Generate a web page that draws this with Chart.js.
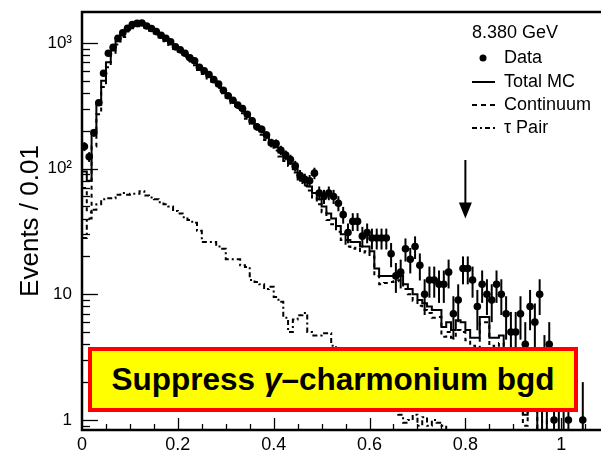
<!DOCTYPE html>
<html>
<head>
<meta charset="utf-8">
<script src="https://cdn.jsdelivr.net/npm/chart.js@4.4.1/dist/chart.umd.min.js"></script>
<style>
  html, body { margin: 0; padding: 0; background: #fff; }
  #wrap { position: relative; width: 605px; height: 462px; }
  #note {
    position: absolute; left: 88px; top: 347px; width: 490px; height: 65px;
    box-sizing: border-box; background: #ffff00; border: 4px solid #ff0000;
    font: bold 31.5px "Liberation Sans", Arial, sans-serif; color: #000;
    display: flex; align-items: center; justify-content: center; white-space: nowrap;
  }
</style>
</head>
<body>
<div id="wrap">
  <canvas id="chart" width="605" height="462"></canvas>
  <div id="note">Suppress&nbsp;<i>γ</i>–charmonium bgd</div>
</div>
<script>
// histogram binning: 0.01 wide bins starting at 0
const binStart = 0;
const binWidth = 0.01;

// events per bin (0 = empty bin)
const dataCounts = [
  150, 124, 193, 334, 573, 826, 922, 1087, 1205, 1306,
  1400, 1430, 1440, 1362, 1300, 1230, 1150, 1090, 1020, 930,
  880, 826, 760, 720, 640, 600, 560, 510, 470, 420,
  380, 350, 320, 300, 270, 240, 215, 205, 185, 160,
  158, 140, 128, 118, 105, 88, 82, 80, 92, 64,
  60, 64, 60, 53, 43, 31, 38, 38, 29, 31,
  28, 28, 28, 28, 21, 14, 15, 23, 19, 24,
  17, 10, 13, 13, 12, 12, 15, 7, 9, 16,
  16, 13, 8, 12, 10, 9, 12, 10, 7, 5,
  5, 7, 4, 8, 6, 10, 3, 4, 1, 2,
  2, 1, 0, 0, 1, 0, 0, 0
];

const totalMC = [
  95, 80, 200, 320, 500, 700, 870, 1030, 1180, 1290,
  1370, 1420, 1420, 1380, 1310, 1240, 1160, 1080, 1010, 940,
  870, 810, 750, 700, 640, 590, 545, 500, 460, 420,
  385, 350, 320, 292, 265, 240, 218, 198, 180, 163,
  148, 134, 121, 110, 99, 89, 80, 72, 64, 57,
  50, 44, 40, 35, 30, 27, 26, 26, 24, 24,
  22, 16, 14, 14, 14, 14, 14, 12, 11, 10,
  9, 8.5, 8, 7.5, 7.5, 5.5, 6, 5.2, 6.2, 6,
  5.2, 4.5, 4.5, 6.6, 6.6, 4.5, 4.5, 4.7, 3.5, 3,
  2.5, 2, 1.1, 2, 1.5, 0, 1.2, 0, 0, 0,
  0, 0, 0, 0, 0, 0, 0, 0
];

const continuum = [
  70, 45, 150, 270, 445, 640, 810, 970, 1115, 1230,
  1305, 1355, 1355, 1320, 1250, 1185, 1105, 1030, 960, 895,
  825, 770, 710, 663, 608, 565, 520, 475, 437, 397,
  366, 331, 301, 275, 249, 227, 206, 186, 169, 152,
  139, 125, 115, 105, 93, 82, 73, 67, 59, 52,
  45, 39, 36, 31.5, 27, 24, 23, 23.5, 21.5, 22,
  20, 14, 12, 12.3, 12.5, 12.7, 12.9, 11, 10, 8.9,
  8.1, 7.5, 7.1, 6.5, 6.6, 4.6, 5, 4.5, 5.2, 5,
  4.3, 3.9, 3.7, 6, 6, 3.9, 3.8, 4.1, 3, 2.6,
  2.1, 1.7, 0.9, 1.8, 1.3, 0, 1.0, 0, 0, 0,
  0, 0, 0, 0, 0, 0, 0, 0
];

const tauPair = [
  28, 40, 47, 52, 57, 58, 58, 62, 64, 62,
  63, 63, 66, 61, 59, 57, 54, 52, 50, 46,
  44, 41, 39, 37, 32, 26, 26, 26, 24, 23,
  19, 19, 19, 17, 16.5, 13, 12.5, 12, 11, 11.5,
  9.5, 8.7, 6.5, 5, 6.3, 6.8, 7.1, 5, 4.7, 4.7,
  4.9, 4.9, 3.9, 3.5, 3.2, 3, 2.8, 2.5, 2.4, 2.2,
  2, 1.9, 1.7, 1.5, 1.4, 1.3, 1.1, 0.95, 1.0, 1.1,
  0.9, 1.05, 0.9, 1.0, 0.95, 0.9, 0, 0, 0, 0,
  0, 0, 0, 0, 0, 0, 0, 0, 0, 0,
  0, 0, 0, 0, 0, 0, 0, 0, 0, 0,
  0, 0, 0, 0, 0, 0, 0, 0
];

const xTicks = [0, 0.2, 0.4, 0.6, 0.8, 1];
const xTickLabels = ['0', '0.2', '0.4', '0.6', '0.8', '1'];
const yTicks = [1, 10, 100, 1000];
const yTickLabels = ['1', '10', '10²', '10³'];

const legendTitle = '8.380 GeV';
const legendLabels = ['Data', 'Total MC', 'Continuum', 'τ Pair'];

// arrow marking the cut at 0.8
const cutX = 0.8;
const arrowFrom = 117;
const arrowTo = 40;

const FONT = '"Liberation Sans", Arial, Helvetica, sans-serif';
const yFloor = 0.3; // empty MC bins are drawn below the axis

const binCenter = i => binStart + binWidth * (i + 0.5);

// step line: one point per lower bin edge, plus the closing edge
function stepPoints(values) {
  const pts = values.map((v, i) => ({ x: binStart + binWidth * i, y: v > 0 ? v : yFloor }));
  const last = values[values.length - 1];
  pts.push({ x: binStart + binWidth * values.length, y: last > 0 ? last : yFloor });
  return pts;
}

const dataPoints = dataCounts.map((n, i) => ({ x: binCenter(i), y: n > 0 ? n : null }));

const histoPlugin = {
  id: 'histoPlugin',
  beforeDatasetsDraw(chart) {
    // error bars for the data, sqrt(N)
    const { ctx, chartArea, scales: { x, y } } = chart;
    ctx.save();
    ctx.beginPath();
    ctx.rect(chartArea.left, chartArea.top, chartArea.right - chartArea.left, chartArea.bottom - chartArea.top);
    ctx.clip();
    ctx.strokeStyle = '#000';
    ctx.lineWidth = 2;
    dataCounts.forEach((n, i) => {
      if (n <= 0) return;
      const err = Math.sqrt(n);
      const px = x.getPixelForValue(binCenter(i));
      const lo = n - err > 0 ? y.getPixelForValue(n - err) : chartArea.bottom;
      const hi = y.getPixelForValue(n + err);
      ctx.beginPath();
      ctx.moveTo(px, lo);
      ctx.lineTo(px, hi);
      ctx.stroke();
    });
    ctx.restore();
  },
  afterDraw(chart) {
    const { ctx, chartArea, scales: { x, y } } = chart;
    const { left, right, top, bottom } = chartArea;
    ctx.save();
    ctx.strokeStyle = '#000';
    ctx.fillStyle = '#000';

    // ticks on the inside of the frame
    ctx.lineWidth = 1.3;
    for (let v = 0.05; v < x.max; v += 0.05) {
      const px = Math.round(x.getPixelForValue(v)) + 0.5;
      const major = xTicks.some(t => Math.abs(t - v) < 1e-6);
      ctx.beginPath();
      ctx.moveTo(px, bottom);
      ctx.lineTo(px, bottom - (major ? 12 : 6));
      ctx.stroke();
    }
    for (let d = 0.1; d <= 1000; d *= 10) {
      for (let m = 1; m <= 9; m++) {
        const v = d * m;
        if (v < y.min || v > y.max) continue;
        const py = Math.round(y.getPixelForValue(v)) + 0.5;
        ctx.beginPath();
        ctx.moveTo(left, py);
        ctx.lineTo(left + (m === 1 ? 16 : 8), py);
        ctx.stroke();
      }
    }

    // frame: left, bottom, top
    ctx.lineWidth = 2.5;
    ctx.beginPath();
    ctx.moveTo(right, top);
    ctx.lineTo(left, top);
    ctx.lineTo(left, bottom);
    ctx.lineTo(right, bottom);
    ctx.stroke();

    // arrow at the cut
    const ax = x.getPixelForValue(cutX);
    const a0 = y.getPixelForValue(arrowFrom);
    const a1 = y.getPixelForValue(arrowTo);
    ctx.lineWidth = 2;
    ctx.beginPath();
    ctx.moveTo(ax, a0);
    ctx.lineTo(ax, a1 - 10);
    ctx.stroke();
    ctx.beginPath();
    ctx.moveTo(ax - 6.5, a1 - 16);
    ctx.lineTo(ax + 6.5, a1 - 16);
    ctx.lineTo(ax, a1);
    ctx.closePath();
    ctx.fill();

    // legend
    ctx.font = '18px ' + FONT;
    ctx.textBaseline = 'middle';
    ctx.textAlign = 'left';
    ctx.fillText(legendTitle, 472, 33);
    const rows = [58, 82, 105, 128];
    const sx0 = 472, sx1 = 495, tx = 504;
    ctx.beginPath();
    ctx.arc(483, rows[0], 3.5, 0, Math.PI * 2);
    ctx.fill();
    const dashes = [[], [5, 4], [5, 3, 2, 3]];
    dashes.forEach((dash, k) => {
      ctx.setLineDash(dash);
      ctx.lineWidth = 2;
      ctx.beginPath();
      ctx.moveTo(sx0, rows[k + 1]);
      ctx.lineTo(sx1, rows[k + 1]);
      ctx.stroke();
    });
    ctx.setLineDash([]);
    legendLabels.forEach((txt, k) => ctx.fillText(txt, tx, rows[k]));
    ctx.restore();
  }
};

Chart.defaults.font.family = FONT;
Chart.defaults.color = '#000';

new Chart(document.getElementById('chart'), {
  type: 'line',
  data: {
    datasets: [
      {
        label: legendLabels[3],
        data: stepPoints(tauPair),
        stepped: 'before',
        borderColor: '#000',
        borderWidth: 2,
        borderDash: [5, 3, 2, 3],
        pointRadius: 0,
        fill: false,
        order: 4
      },
      {
        label: legendLabels[2],
        data: stepPoints(continuum),
        stepped: 'before',
        borderColor: '#000',
        borderWidth: 2,
        borderDash: [4, 4],
        pointRadius: 0,
        fill: false,
        order: 3
      },
      {
        label: legendLabels[1],
        data: stepPoints(totalMC),
        stepped: 'before',
        borderColor: '#000',
        borderWidth: 2,
        pointRadius: 0,
        fill: false,
        order: 2
      },
      {
        label: legendLabels[0],
        data: dataPoints,
        showLine: false,
        pointRadius: 3.8,
        pointBackgroundColor: '#000',
        pointBorderWidth: 0,
        order: 1
      }
    ]
  },
  options: {
    responsive: false,
    animation: false,
    devicePixelRatio: 1,
    layout: { padding: { top: 12, right: 0, bottom: 0, left: 0 } },
    plugins: { legend: { display: false }, tooltip: { enabled: false } },
    scales: {
      x: {
        type: 'linear',
        min: 0,
        max: 1.083,
        afterBuildTicks: s => { s.ticks = xTicks.map(v => ({ value: v })); },
        afterFit: s => { s.height = 32; s.paddingLeft = 0; s.paddingRight = 0; },
        ticks: {
          callback: (v, i) => xTickLabels[i],
          font: { size: 18 },
          color: '#000',
          padding: 4,
          maxRotation: 0,
          autoSkip: false
        },
        grid: { display: false, drawTicks: false },
        border: { display: false }
      },
      y: {
        type: 'logarithmic',
        min: 0.832,
        max: 1761,
        afterBuildTicks: s => { s.ticks = yTicks.map(v => ({ value: v })); },
        afterFit: s => { s.width = 82; s.paddingTop = 0; s.paddingBottom = 0; },
        ticks: {
          callback: (v, i) => yTickLabels[i],
          font: { size: 17 },
          color: '#000',
          padding: 10,
          autoSkip: false
        },
        title: {
          display: true,
          text: 'Events / 0.01',
          font: { size: 26 },
          color: '#000',
          padding: { top: 15, bottom: 0 }
        },
        grid: { display: false, drawTicks: false },
        border: { display: false }
      }
    }
  },
  plugins: [histoPlugin]
});
</script>
</body>
</html>
